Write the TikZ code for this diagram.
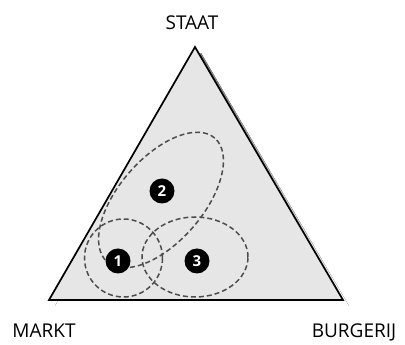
\documentclass[tikz,border=0pt]{standalone}
\usepackage{fontspec}
\setmainfont{Open Sans}
\usepackage{tikz}
\usetikzlibrary{positioning}
\usepackage{xcolor}

\definecolor{panel}{HTML}{E6E6E6}
\definecolor{shade}{HTML}{999999}
\definecolor{ring}{HTML}{4D4D4D}

\begin{document}
\begin{tikzpicture}[x=1pt, y=1pt,
    numdot/.style={circle, fill=black, inner sep=0pt, minimum size=25pt,
                   text=white, font=\fontsize{15}{15}\selectfont\bfseries},
    corner/.style={anchor=base, inner sep=0pt, font=\fontsize{19}{19}\selectfont},
    ringline/.style={draw=ring, line width=1.5pt, dash pattern=on 5pt off 3pt}
]
\useasboundingbox (0,0) rectangle (405,345);

% Triangle
\coordinate (top) at (195,298);
\coordinate (left) at (49,45);
\coordinate (right) at (343,45);

\fill[shade] ([shift={(6,-6)}]top) -- ([shift={(6,-6)}]left)
    -- ([shift={(6,-6)}]right) -- cycle;
\draw[line width=1.7pt, fill=panel, line join=miter] (top) -- (left) -- (right) -- cycle;

% Corner labels
\node[corner] (staat) at (192,315) {STAAT};
\node[corner] (markt) at (44,7) {MARKT};
\node[corner] (burgerij) at (354,7) {BURGERIJ};

% Dashed rings
\draw[ringline] (123.5,87) circle (39);
\draw[ringline] (195,88) ellipse (53 and 40);
\draw[ringline, rotate around={49:(161,145)}] (161,145) ellipse (82 and 42);

% Numbered dots
\node[numdot] (n1) at (118,84) {1};
\node[numdot] (n2) at (162,154) {2};
\node[numdot] (n3) at (197,84) {3};

\end{tikzpicture}
\end{document}
